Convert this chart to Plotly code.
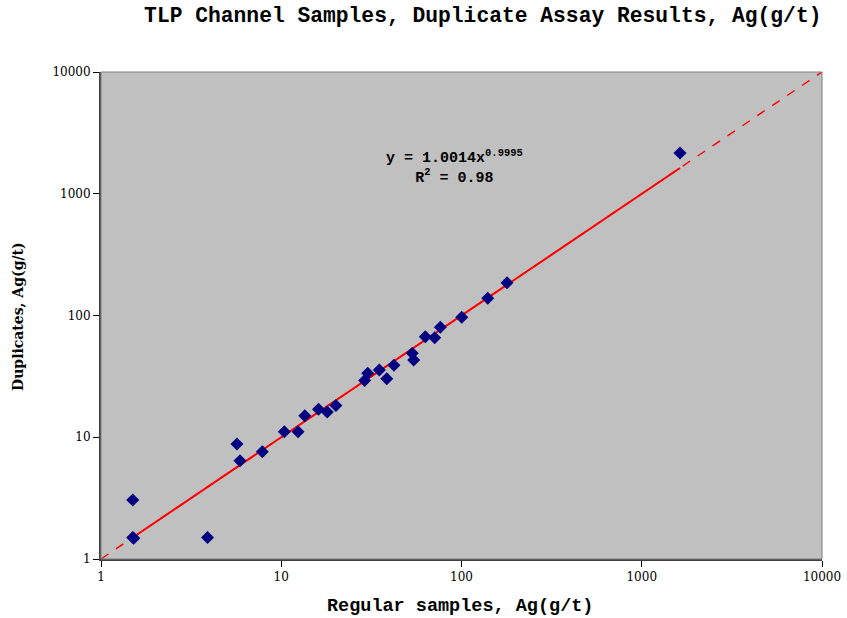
import plotly.graph_objects as go
import numpy as np

# Data (regular sample vs duplicate, Ag g/t)
regular = [1.5, 1.5, 1.52, 3.9, 5.68, 5.9, 7.85, 10.4, 12.4, 13.5, 16.1, 18.0, 20.1,
           29.0, 30.2, 35.0, 38.5, 42.2, 53.3, 54.3, 63.0, 71.0, 76.3, 100.3, 139.8,
           178.8, 1630]
duplicates = [3.05, 1.5, 1.48, 1.5, 8.8, 6.42, 7.61, 11.1, 11.1, 15.0, 16.96, 16.1, 18.2,
              29.2, 33.5, 35.7, 30.3, 39.0, 48.9, 43.1, 67.0, 65.7, 80.0, 96.7, 138.4,
              186.0, 2161]

# Power trendline coefficients (as displayed)
fit_a = 1.0014
fit_b = 0.9995
one_to_one = [1, 10000]

tick_vals = [1, 10, 100, 1000, 10000]
tick_text = ["1", "10", "100", "1000", "10000"]

xfit = np.logspace(np.log10(min(regular)), np.log10(max(regular)), 60)
yfit = fit_a * xfit ** fit_b

fig = go.Figure()
fig.add_trace(go.Scatter(x=one_to_one, y=one_to_one, mode="lines",
                         line=dict(color="#FF0000", width=1.4, dash="dash"),
                         hoverinfo="skip", showlegend=False))
fig.add_trace(go.Scatter(x=xfit, y=yfit, mode="lines",
                         line=dict(color="#FF0000", width=2),
                         hoverinfo="skip", showlegend=False))
fig.add_trace(go.Scatter(x=regular, y=duplicates, mode="markers",
                         marker=dict(symbol="diamond", size=10, color="#000080",
                                     line=dict(width=0)),
                         showlegend=False))

axis_common = dict(type="log", tickvals=tick_vals, ticktext=tick_text,
                   showgrid=False, zeroline=False, showline=True, automargin=False,
                   linecolor="#404040", linewidth=2, mirror=False,
                   ticks="outside", ticklen=6, tickcolor="#000000", tickwidth=1,
                   tickfont=dict(family="DejaVu Serif", size=12, color="#000000"))

fig.update_xaxes(range=[0, 4], **axis_common)
fig.update_yaxes(range=[0, 4], **axis_common)

fig.add_shape(type="rect", xref="paper", yref="paper", x0=0, y0=0, x1=1, y1=1,
              line=dict(color="#808080", width=1), fillcolor="rgba(0,0,0,0)", layer="above")

fig.add_annotation(xref="paper", yref="paper", x=0.4986, y=-0.097,
                   text="<b>Regular samples, Ag(g/t)</b>", showarrow=False,
                   xanchor="center", yanchor="middle",
                   font=dict(family="Liberation Mono", size=18.5, color="#000000"))
fig.add_annotation(xref="paper", yref="paper", x=-0.1151, y=0.497,
                   text="<b>Duplicates, Ag(g/t)</b>", showarrow=False, textangle=-90,
                   xanchor="center", yanchor="middle",
                   font=dict(family="DejaVu Serif", size=14, color="#000000"))

fig.add_annotation(xref="paper", yref="paper", x=0.49, y=0.805,
                   text="<b>y = 1.0014x<sup>0.9995</sup><br>R<sup>2</sup> = 0.98</b>",
                   showarrow=False, align="center", xanchor="center", yanchor="middle",
                   font=dict(family="Liberation Mono", size=15, color="#000000"))

fig.update_layout(
    width=847, height=618,
    margin=dict(l=101, r=25, t=72, b=59),
    paper_bgcolor="#FFFFFF", plot_bgcolor="#C0C0C0",
    title=dict(text="<b>TLP Channel Samples, Duplicate Assay Results, Ag(g/t)</b>",
               x=0.570, xanchor="center", y=0.976, yanchor="middle",
               font=dict(family="Liberation Mono", size=21.3, color="#000000")),
)

fig.write_html("out.html", config={"displayModeBar": False},
               post_script="document.body.style.margin='0';")
